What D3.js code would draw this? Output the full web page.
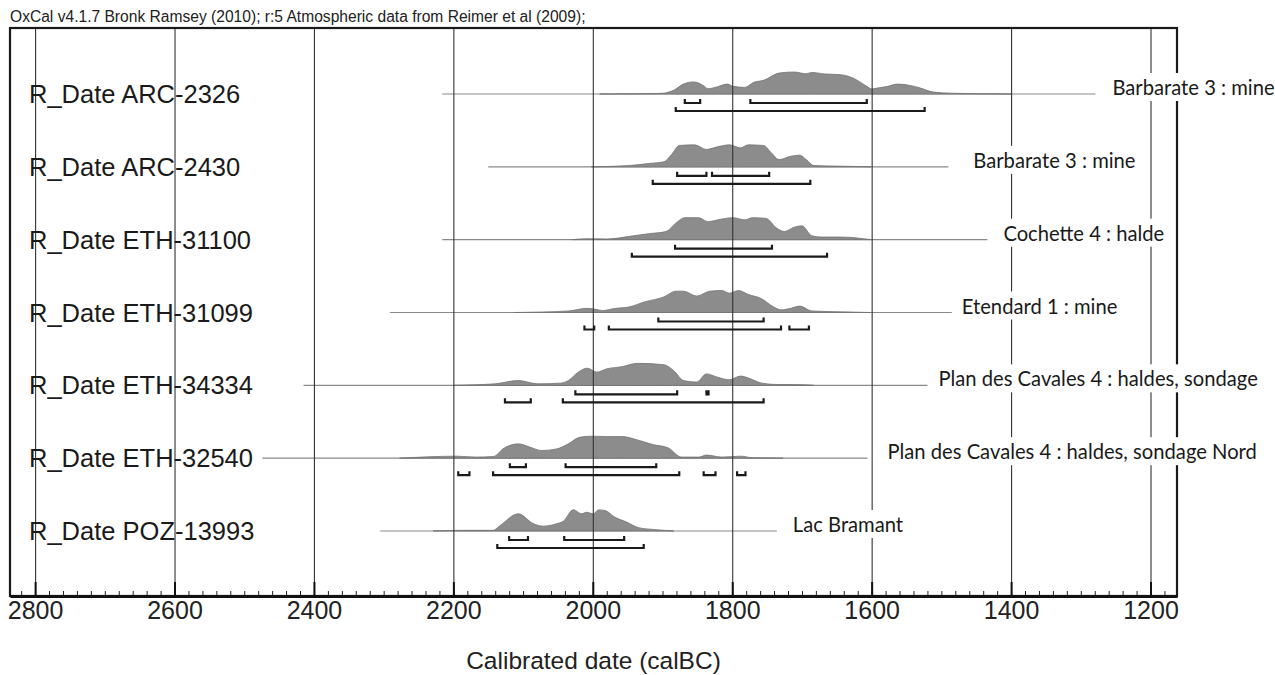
<!DOCTYPE html>
<html>
<head>
<meta charset="utf-8">
<script src="https://cdnjs.cloudflare.com/ajax/libs/d3/7.8.5/d3.min.js"></script>
<style>
body { margin: 0; background: #fff; }
</style>
</head>
<body>
<div id="chart"></div>
<script>
var w = 1275;
var h = 675;

// samples
var names = ["R_Date ARC-2326", "R_Date ARC-2430", "R_Date ETH-31100", "R_Date ETH-31099",
             "R_Date ETH-34334", "R_Date ETH-32540", "R_Date POZ-13993"];
var sites = ["Barbarate 3 : mine", "Barbarate 3 : mine", "Cochette 4 : halde", "Etendard 1 : mine",
             "Plan des Cavales 4 : haldes, sondage", "Plan des Cavales 4 : haldes, sondage Nord", "Lac Bramant"];

// extent of each likelihood line (calBC)
var rangeStart = [2216, 2150, 2216, 2291, 2415, 2474, 2305];
var rangeEnd   = [1279, 1490, 1434, 1485, 1520, 1606, 1736];

// probability curves (relative height 0..1)
var probYears = [
  [1990, 1940, 1900, 1892, 1884, 1870, 1856, 1848, 1840, 1835, 1821, 1807, 1799, 1782, 1769, 1755, 1733, 1711, 1694, 1686, 1667, 1645, 1627, 1607, 1600, 1592, 1578, 1563, 1545, 1530, 1516, 1497, 1463, 1434, 1400],
  [2002, 1947, 1920, 1898, 1887, 1876, 1854, 1837, 1821, 1804, 1788, 1777, 1755, 1744, 1733, 1716, 1703, 1694, 1683, 1645, 1601],
  [2030, 2010, 2002, 1980, 1947, 1920, 1895, 1881, 1868, 1848, 1835, 1815, 1799, 1782, 1771, 1752, 1736, 1725, 1711, 1700, 1686, 1672, 1645, 1601],
  [2112, 2035, 2008, 1997, 1986, 1969, 1947, 1925, 1898, 1881, 1870, 1851, 1832, 1815, 1804, 1791, 1777, 1758, 1741, 1730, 1716, 1703, 1686, 1645, 1601],
  [2200, 2140, 2107, 2079, 2046, 2035, 2021, 2008, 1994, 1980, 1958, 1936, 1898, 1884, 1870, 1851, 1837, 1821, 1804, 1788, 1774, 1760, 1738, 1700, 1683],
  [2277, 2195, 2167, 2142, 2129, 2107, 2090, 2074, 2052, 2035, 2019, 2002, 1980, 1958, 1936, 1914, 1892, 1873, 1848, 1837, 1815, 1788, 1771, 1727],
  [2229, 2190, 2143, 2133, 2107, 2085, 2071, 2052, 2042, 2028, 2016, 2009, 1999, 1992, 1982, 1970, 1951, 1934, 1913, 1884]
];
var probValues = [
  [0, 0.01, 0.03, 0.08, 0.17, 0.45, 0.55, 0.5, 0.35, 0.24, 0.33, 0.45, 0.35, 0.30, 0.53, 0.62, 0.95, 1.0, 0.92, 0.98, 0.91, 0.88, 0.73, 0.35, 0.23, 0.27, 0.34, 0.45, 0.39, 0.27, 0.12, 0.05, 0.02, 0.01, 0],
  [0, 0.06, 0.15, 0.23, 0.56, 0.97, 1.0, 0.79, 0.91, 1.0, 0.86, 1.0, 0.97, 0.64, 0.33, 0.48, 0.53, 0.33, 0.06, 0.03, 0],
  [0, 0.04, 0.04, 0.03, 0.15, 0.27, 0.37, 0.75, 1.0, 1.0, 0.82, 0.94, 1.0, 0.9, 1.0, 0.97, 0.52, 0.37, 0.57, 0.63, 0.18, 0.12, 0.12, 0],
  [0, 0.07, 0.19, 0.15, 0.09, 0.18, 0.26, 0.49, 0.71, 0.97, 0.97, 0.75, 0.97, 1.0, 0.88, 1.0, 0.82, 0.63, 0.26, 0.12, 0.19, 0.29, 0.07, 0.03, 0],
  [0, 0.07, 0.22, 0.07, 0.10, 0.22, 0.6, 0.78, 0.6, 0.75, 0.85, 1.0, 0.94, 0.67, 0.22, 0.15, 0.52, 0.37, 0.25, 0.42, 0.30, 0.12, 0.04, 0.03, 0],
  [0, 0.09, 0.05, 0.08, 0.42, 0.65, 0.5, 0.35, 0.42, 0.65, 0.95, 1.0, 0.98, 0.98, 0.83, 0.62, 0.47, 0.05, 0.05, 0.14, 0.05, 0.09, 0.02, 0],
  [0, 0.03, 0.03, 0.25, 0.78, 0.33, 0.22, 0.33, 0.45, 0.97, 0.78, 0.85, 0.78, 0.96, 0.93, 0.66, 0.40, 0.15, 0.07, 0]
];

// highest probability ranges [from, to] calBC
var range68 = [
  [[1868, 1846], [1774, 1607]],
  [[1879, 1837], [1829, 1747]],
  [[1882, 1743]],
  [[1906, 1755]],
  [[2025, 1879], [1837, 1834]],
  [[2119, 2096], [2039, 1909]],
  [[2120, 2093], [2041, 1955]]
];
var range95 = [
  [[1881, 1524]],
  [[1914, 1688]],
  [[1944, 1664]],
  [[2012, 1998], [1977, 1730], [1718, 1690]],
  [[2126, 2089], [2043, 1755]],
  [[2193, 2177], [2143, 1876], [1841, 1824], [1793, 1781]],
  [[2137, 1927]]
];

var tickLabels = [2800, 2600, 2400, 2200, 2000, 1800, 1600, 1400, 1200];

var frameL = 10, frameR = 1177, frameT = 28, frameB = 596;
var labelGap = [17, 25, 16, 10, 11, 20, 16];

var xScale = d3.scaleLinear()
    .domain([2836, 1162])
    .range([frameL, frameR]);

var yScale = d3.scalePoint()
    .domain(names)
    .range([94, 531]);

var hScale = d3.scaleLinear()
    .domain([0, 1])
    .range([0, 22]);

var svg = d3.select("#chart")
    .append("svg")
    .attr("width", w)
    .attr("height", h);

// header
svg.append("text")
    .attr("x", 10)
    .attr("y", 22)
    .attr("font-family", "Liberation Sans, Arial, sans-serif")
    .attr("font-size", "15.6px")
    .attr("fill", "#222")
    .text("OxCal v4.1.7 Bronk Ramsey (2010); r:5 Atmospheric data from Reimer et al (2009);");

// likelihood lines
svg.selectAll(".range-line")
    .data(names)
    .enter()
    .append("line")
    .attr("class", "range-line")
    .attr("x1", function(d, i) { return xScale(rangeStart[i]); })
    .attr("x2", function(d, i) { return xScale(rangeEnd[i]); })
    .attr("y1", function(d) { return yScale(d); })
    .attr("y2", function(d) { return yScale(d); })
    .attr("stroke", "#8a8a8a")
    .attr("stroke-width", 1.2);

// probability areas
names.forEach(function(n, i) {
    var y0 = yScale(n);
    var pts = probYears[i].map(function(yr, j) { return [yr, probValues[i][j]]; });
    var area = d3.area()
        .x(function(d) { return xScale(d[0]); })
        .y0(y0)
        .y1(function(d) { return y0 - hScale(d[1]); })
        .curve(d3.curveMonotoneX);
    svg.append("path")
        .datum(pts)
        .attr("d", area)
        .attr("fill", "#8c8c8c")
        .attr("stroke", "#727272")
        .attr("stroke-width", 0.8);
});

// grid lines
svg.append("g")
    .attr("transform", "translate(0," + frameB + ")")
    .call(d3.axisBottom(xScale)
        .tickValues(tickLabels)
        .tickSizeInner(-(frameB - frameT))
        .tickSizeOuter(0)
        .tickFormat(""))
    .call(function(g) { g.select(".domain").remove(); })
    .selectAll("line")
    .attr("stroke", "#333")
    .attr("stroke-width", 1.1);

// ranges (brackets)
function drawBrackets(ranges, offset) {
    names.forEach(function(n, i) {
        var yb = yScale(n) + offset;
        ranges[i].forEach(function(r) {
            var x1 = xScale(r[0]), x2 = xScale(r[1]);
            svg.append("path")
                .attr("d", "M" + x1 + "," + (yb - 4) + "V" + yb + "H" + x2 + "V" + (yb - 4))
                .attr("fill", "none")
                .attr("stroke", "#1a1a1a")
                .attr("stroke-width", 2.2);
        });
    });
}
drawBrackets(range68, 9);
drawBrackets(range95, 17);

// frame
svg.append("rect")
    .attr("x", frameL)
    .attr("y", frameT)
    .attr("width", frameR - frameL)
    .attr("height", frameB - frameT)
    .attr("fill", "none")
    .attr("stroke", "#1a1a1a")
    .attr("stroke-width", 2.2);

// minor ticks
svg.append("g")
    .attr("transform", "translate(0," + frameB + ")")
    .call(d3.axisBottom(xScale)
        .tickValues(d3.range(2820, 1160, -20))
        .tickSizeInner(-5)
        .tickSizeOuter(0)
        .tickFormat(""))
    .call(function(g) { g.select(".domain").remove(); })
    .selectAll("line")
    .attr("stroke", "#222")
    .attr("stroke-width", 1);

// major ticks + labels
var axis = svg.append("g")
    .attr("transform", "translate(0," + frameB + ")")
    .call(d3.axisBottom(xScale)
        .tickValues(tickLabels)
        .tickSizeInner(-14)
        .tickSizeOuter(0)
        .tickPadding(5)
        .tickFormat(d3.format("d")));
axis.select(".domain")
    .attr("stroke", "#111")
    .attr("stroke-width", 3);
axis.selectAll("line")
    .attr("stroke", "#111")
    .attr("stroke-width", 2);
axis.selectAll("text")
    .attr("font-family", "Liberation Sans, Arial, sans-serif")
    .attr("font-size", "25px")
    .attr("fill", "#222");

// axis title
svg.append("text")
    .attr("x", (frameL + frameR) / 2)
    .attr("y", 669)
    .attr("text-anchor", "middle")
    .attr("font-family", "Liberation Sans, Arial, sans-serif")
    .attr("font-size", "24.5px")
    .attr("fill", "#222")
    .text("Calibrated date (calBC)");

// sample names
svg.selectAll(".name")
    .data(names)
    .enter()
    .append("text")
    .attr("class", "name")
    .attr("x", 29)
    .attr("y", function(d) { return yScale(d) + 9; })
    .attr("font-family", "Liberation Sans, Arial, sans-serif")
    .attr("font-size", "25.5px")
    .attr("fill", "#1a1a1a")
    .text(function(d) { return d; });

// site labels with white boxes
var siteG = svg.selectAll(".site")
    .data(sites)
    .enter()
    .append("g")
    .attr("class", "site");
siteG.append("rect")
    .attr("fill", "#fff");
siteG.append("text")
    .attr("x", function(d, i) { return xScale(rangeEnd[i]) + labelGap[i]; })
    .attr("y", function(d, i) { return yScale(names[i]) + 1; })
    .attr("font-family", "Lato, Open Sans, sans-serif")
    .attr("font-size", "20.2px")
    .attr("fill", "#1a1a1a")
    .text(function(d) { return d; });
siteG.each(function() {
    var g = d3.select(this);
    var b = g.select("text").node().getBBox();
    g.select("rect")
        .attr("x", b.x - 4)
        .attr("y", b.y - 2)
        .attr("width", b.width + 6)
        .attr("height", b.height + 4);
});
</script>
</body>
</html>
